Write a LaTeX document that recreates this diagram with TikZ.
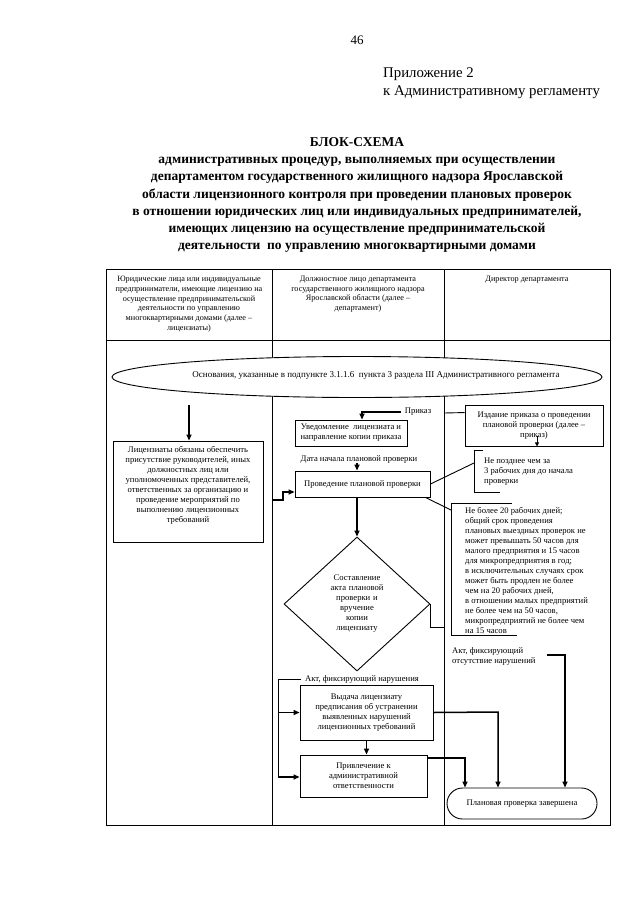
\documentclass[tikz,border=0pt]{standalone}
\usepackage{fontspec}
\setmainfont{Liberation Serif}
\usetikzlibrary{arrows.meta,shapes.geometric}
\begin{document}
\begin{tikzpicture}[x=1pt,y=-1pt,
  every node/.style={inner sep=0pt},
  txt/.style={font=\fontsize{8.6}{10}\selectfont, align=center},
  hdr/.style={font=\fontsize{8.2}{9.7}\selectfont, align=center},
  box/.style={draw, fill=white, line width=0.9pt, txt},
  ln/.style={line width=0.9pt},
  arr/.style={-{Triangle[length=6pt,width=5pt]}, line width=1.5pt},
]
\fill[white] (0,0) rectangle (640,905);
\useasboundingbox (0,0) rectangle (640,905);

% page head
\node[font=\fontsize{13}{15}\selectfont] (pg) at (357,40) {46};
\node[font=\fontsize{14.8}{18}\selectfont, align=left, anchor=north west] (app) at (383,67) {Приложение 2\\к Административному регламенту};
\node[font=\bfseries\fontsize{13.5}{17.3}\selectfont, align=center, anchor=north] (title) at (357,137)
 {БЛОК-СХЕМА\\
  административных процедур, выполняемых при осуществлении\\
  департаментом государственного жилищного надзора Ярославской\\
  области лицензионного контроля при проведении плановых проверок\\
  в отношении юридических лиц или индивидуальных предпринимателей,\\
  имеющих лицензию на осуществление предпринимательской\\
  деятельности\ \ по управлению многоквартирными домами};

% table frame
\draw[ln] (106,269) rectangle (610,825);
\draw[ln] (106,340) -- (610,340);
\draw[ln] (272,269) -- (272,825);
\draw[ln] (444,269) -- (444,825);

% headers
\node[hdr, anchor=north] (h1) at (189,276) {Юридические лица или индивидуальные\\предприниматели, имеющие лицензию на\\осуществление предпринимательской\\деятельности по управлению\\многоквартирными домами (далее –\\лицензиаты)};
\node[hdr, anchor=north] (h2) at (358,276) {Должностное лицо департамента\\государственного жилищного надзора\\Ярославской области (далее –\\департамент)};
\node[hdr, anchor=north] (h3) at (527,276) {Директор департамента};

% start ellipse
\node[draw, fill=white, ellipse, line width=0.9pt, minimum width=490pt, minimum height=41pt] (osn) at (357,377) {};
\node[font=\fontsize{9}{10}\selectfont] (osntext) at (376,375)
 {Основания, указанные в подпункте 3.1.1.6\ \ пункта 3 раздела III Административного регламента};

% left column
\node[box, minimum width=150pt, minimum height=101pt] (lic) at (188,491.5) {};
\node[txt] (lictext) at (188,485) {Лицензиаты обязаны обеспечить\\присутствие руководителей, иных\\должностных лиц или\\уполномоченных представителей,\\ответственных за организацию и\\проведение мероприятий по\\выполнению лицензионных\\требований};
\coordinate (a0) at (189,405);
\draw[arr] (a0) -- (a0 |- lic.north);

% middle column
\node[txt] (prk) at (418,412) {Приказ};
\node[box, minimum width=112pt, minimum height=26pt] (uv) at (351,433) {Уведомление\ \ лицензиата и\\направление копии приказа};
\node[txt] (data) at (359,459) {Дата начала плановой проверки};
\node[box, minimum width=135pt, minimum height=26pt] (pr) at (362.5,484) {Проведение плановой проверки};
\node[draw, fill=white, diamond, line width=0.9pt, minimum width=146pt, minimum height=134pt, txt, text width=64pt] (dia) at (357,604)
 {Составление\\акта плановой\\проверки и\\вручение\\копии\\лицензиату};
\node[txt] (akt) at (362,679) {Акт, фиксирующий нарушения};
\node[box, minimum width=133pt, minimum height=55pt] (vyd) at (366.5,712.5) {Выдача лицензиату\\предписания об устранении\\выявленных нарушений\\лицензионных требований};
\node[box, minimum width=127pt, minimum height=42pt] (pv) at (363.5,776) {Привлечение к\\административной\\ответственности};

% right column
\node[box, minimum width=138pt, minimum height=41pt] (izd) at (534,425.5) {Издание приказа о проведении\\плановой проверки (далее –\\приказ)};
\node[txt, align=left, anchor=north west] (npz) at (484,458) {Не позднее чем за\\3 рабочих дня до начала\\проверки};
\draw[ln] (483,450) -- (474,450) -- (474,492) -- (500,492);
\node[txt, align=left, anchor=north west] (nbl) at (465,507) {Не более 20 рабочих дней;\\общий срок проведения\\плановых выездных проверок не\\может превышать 50 часов для\\малого предприятия и 15 часов\\для микропредприятия в год;\\в исключительных случаях срок\\может быть продлен не более\\чем на 20 рабочих дней,\\в отношении малых предприятий\\не более чем на 50 часов,\\микропредприятий не более чем\\на 15 часов};
\draw[ln] (512,503) -- (451,503) -- (451,635) -- (517,635);
\node[txt, align=left, anchor=north west] (akt2) at (452,647) {Акт, фиксирующий\\отсутствие нарушений};
\node[draw, fill=white, rounded corners=15.5pt, minimum width=150pt, minimum height=31pt, txt, line width=0.9pt] (end) at (522,803.5) {Плановая проверка завершена};

% connectors
\coordinate (c1) at (444,413);
\draw[ln] ([yshift=-8pt]izd.north west) -- (c1);
\coordinate (i1) at (537,436);
\draw[-{Triangle[length=4pt,width=4pt]}, line width=0.9pt] (i1) -- (i1 |- izd.south);
\coordinate (k1) at (362,412);
\draw[arr] ([xshift=-4pt]prk.west) -- (k1) -- (k1 |- uv.north);
\coordinate (k2) at (357,470);
\draw[arr] (data.south -| k2) -- (pr.north -| k2);
\coordinate (s0) at (272,500);
\coordinate (s1) at (283,500);
\coordinate (s2) at (283,492);
\draw[arr] (s0) -- (s1) -- (s2) -- (s2 -| pr.west);
\draw[arr] (pr.south -| dia.north) -- (dia.north);
\coordinate (np) at (474,463);
\draw[ln] (pr.east) -- (np);
\coordinate (nb) at (451,510);
\draw[ln] ([xshift=-5pt]pr.south east) -- (nb);
\coordinate (d2) at (444,627);
\draw[ln] (dia.east) -- (dia.east |- d2) -- (d2);
\coordinate (v1) at (278,679);
\coordinate (v2) at (278,777);
\draw[ln] ([xshift=-4pt]akt.west) -- (v1) -- (v2);
\draw[arr] (v1 |- vyd.west) -- (vyd.west);
\draw[arr] (v2) -- (v2 -| pv.west);
\draw[arr] (vyd.south) -- (vyd.south |- pv.north);
\coordinate (e1) at (498,712);
\draw[arr] (vyd.east) -- (e1) -- (e1 |- end.north);
\coordinate (e2) at (465,758);
\draw[arr] (pv.east |- e2) -- (e2) -- (e2 |- end.north);
\coordinate (e3s) at (547,655);
\coordinate (e3) at (565,655);
\draw[arr] (e3s) -- (e3) -- (e3 |- end.north);
\end{tikzpicture}
\end{document}
